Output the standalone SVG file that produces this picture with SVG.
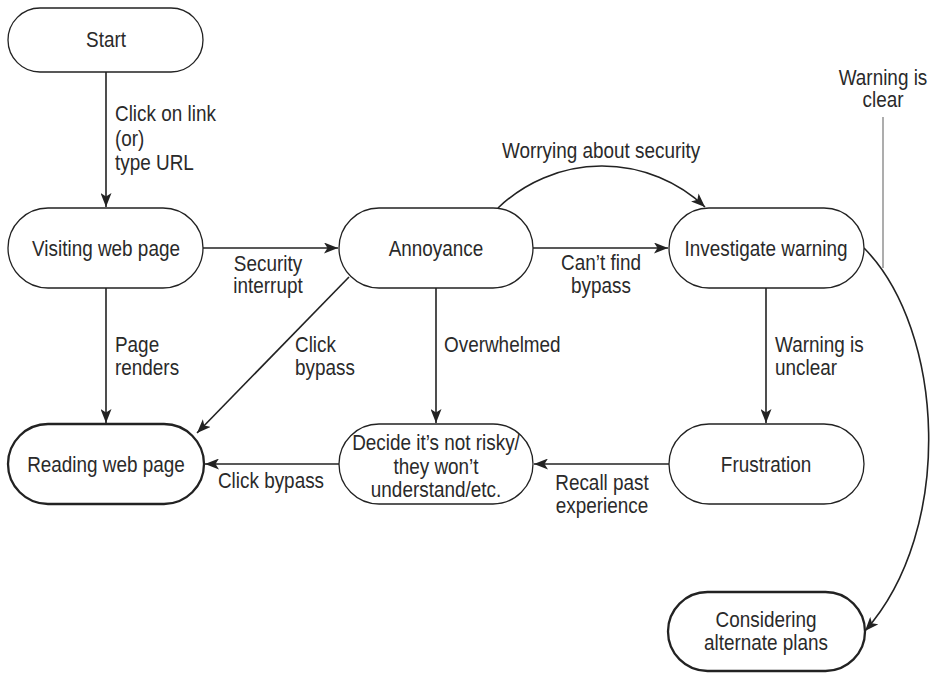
<svg xmlns="http://www.w3.org/2000/svg" width="930" height="673" viewBox="0 0 930 673">
<defs>
<style>
.n rect{fill:#fff;stroke:#222;stroke-width:1.3}
.n.b rect{stroke-width:2.3}
text{font-family:"Liberation Sans",Arial,sans-serif;fill:#2a2a2a;font-size:22px}
.nt,.lc{text-anchor:middle}
.c path,.c line{fill:none;stroke:#222;stroke-width:1.6}
</style>
<marker id="ah" markerUnits="userSpaceOnUse" markerWidth="15" markerHeight="11" refX="14" refY="5.5" orient="auto">
<path d="M0,0 L14,5.5 L0,11 L3.5,5.5 z" fill="#222"/>
</marker>
</defs>
<rect width="930" height="673" fill="#fff"/>
<g class="c">
<line x1="106" y1="72" x2="106" y2="207" marker-end="url(#ah)"/>
<line x1="203" y1="248" x2="338" y2="248" marker-end="url(#ah)"/>
<line x1="106" y1="288" x2="106" y2="423" marker-end="url(#ah)"/>
<line x1="349" y1="277" x2="197" y2="433" marker-end="url(#ah)"/>
<line x1="533" y1="248" x2="668" y2="248" marker-end="url(#ah)"/>
<path d="M498 208 A150 150 0 0 1 705 207" marker-end="url(#ah)"/>
<line x1="436" y1="288" x2="436" y2="423" marker-end="url(#ah)"/>
<line x1="339" y1="464" x2="205" y2="464" marker-end="url(#ah)"/>
<line x1="766" y1="288" x2="766" y2="423" marker-end="url(#ah)"/>
<line x1="669" y1="464" x2="534" y2="464" marker-end="url(#ah)"/>
<path d="M864 248 C945 330 955 530 865 631" marker-end="url(#ah)"/>
<line x1="883" y1="117" x2="883" y2="268" style="stroke:#999;stroke-width:1.6"/>
</g>
<g id="start" class="n"><rect x="8" y="8" width="195" height="64" rx="32"/><text class="nt" transform="translate(106 47) scale(0.86 1)">Start</text></g>
<g id="visiting" class="n"><rect x="8" y="208" width="195" height="80" rx="40"/><text class="nt" transform="translate(106 256) scale(0.86 1)">Visiting web page</text></g>
<g id="annoyance" class="n"><rect x="339" y="208" width="194" height="80" rx="40"/><text class="nt" transform="translate(436 256) scale(0.86 1)">Annoyance</text></g>
<g id="investigate" class="n"><rect x="669" y="208" width="195" height="80" rx="40"/><text class="nt" transform="translate(766 256) scale(0.86 1)">Investigate warning</text></g>
<g id="reading" class="n b"><rect x="8" y="424" width="196" height="80" rx="40"/><text class="nt" transform="translate(106 472) scale(0.86 1)">Reading web page</text></g>
<g id="decide" class="n"><rect x="339" y="424" width="194" height="80" rx="40"/><text class="nt" transform="translate(436 450) scale(0.86 1)">Decide it’s not risky/</text><text class="nt" transform="translate(436 474) scale(0.86 1)">they won’t</text><text class="nt" transform="translate(436 497) scale(0.86 1)">understand/etc.</text></g>
<g id="frustration" class="n"><rect x="669" y="424" width="195" height="80" rx="40"/><text class="nt" transform="translate(766 472) scale(0.86 1)">Frustration</text></g>
<g id="considering" class="n b"><rect x="668" y="592" width="197" height="79" rx="39.5"/><text class="nt" transform="translate(766 627) scale(0.86 1)">Considering</text><text class="nt" transform="translate(766 650) scale(0.86 1)">alternate plans</text></g>
<g id="labels">
<text transform="translate(115 121) scale(0.86 1)">Click on link</text>
<text transform="translate(115 146) scale(0.86 1)">(or)</text>
<text transform="translate(115 170) scale(0.86 1)">type URL</text>
<text class="lc" transform="translate(268 271) scale(0.86 1)">Security</text>
<text class="lc" transform="translate(268 293) scale(0.86 1)">interrupt</text>
<text transform="translate(115 352) scale(0.86 1)">Page</text>
<text transform="translate(115 375) scale(0.86 1)">renders</text>
<text transform="translate(295 352) scale(0.86 1)">Click</text>
<text transform="translate(295 375) scale(0.86 1)">bypass</text>
<text class="lc" transform="translate(271 488) scale(0.86 1)">Click bypass</text>
<text class="lc" transform="translate(601 158) scale(0.86 1)">Worrying about security</text>
<text class="lc" transform="translate(601 270) scale(0.86 1)">Can’t find</text>
<text class="lc" transform="translate(601 293) scale(0.86 1)">bypass</text>
<text transform="translate(444 352) scale(0.86 1)">Overwhelmed</text>
<text transform="translate(775 352) scale(0.86 1)">Warning is</text>
<text transform="translate(775 375) scale(0.86 1)">unclear</text>
<text class="lc" transform="translate(602 490) scale(0.86 1)">Recall past</text>
<text class="lc" transform="translate(602 513) scale(0.86 1)">experience</text>
<text class="lc" transform="translate(883 85) scale(0.86 1)">Warning is</text>
<text class="lc" transform="translate(883 107) scale(0.86 1)">clear</text>
</g>
</svg>
